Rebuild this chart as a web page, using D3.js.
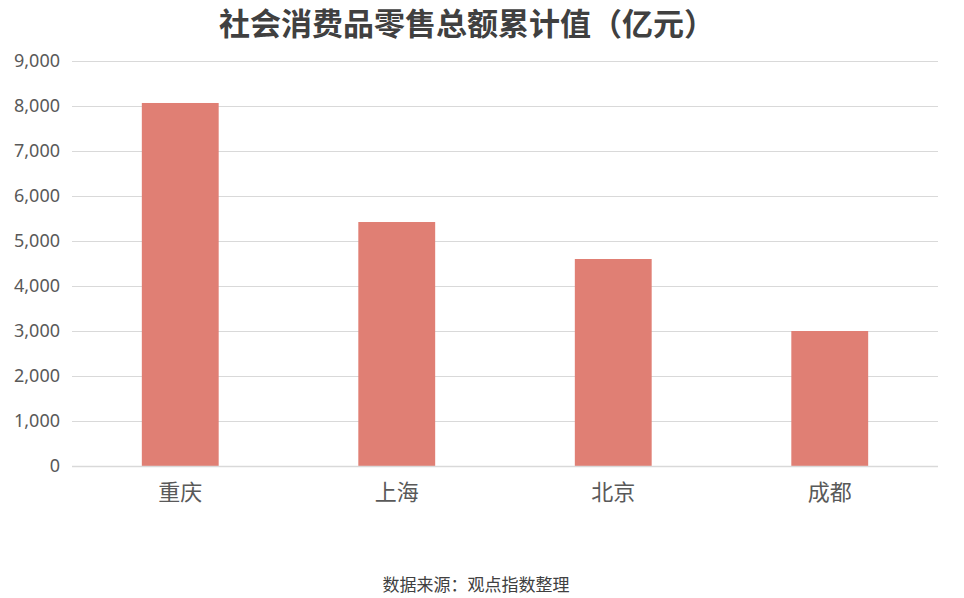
<!DOCTYPE html>
<html><head><meta charset="utf-8">
<script src="https://cdn.jsdelivr.net/npm/d3@7"></script>
<style>body{margin:0;background:#fff;}svg{display:block;font-family:"Noto Sans CJK SC","Noto Sans",sans-serif;}</style>
</head><body>
<svg id="c" width="964" height="598"></svg>
<script>
const categories = ["重庆", "上海", "北京", "成都"];
const values = [8067, 5422, 4600, 3000];
const yTicks = [0, 1000, 2000, 3000, 4000, 5000, 6000, 7000, 8000, 9000];
const title = "社会消费品零售总额累计值（亿元）";
const source = "数据来源：观点指数整理";

const svg = d3.select("#c");
const mLeft = 72, mRight = 938, mTop = 61, mBottom = 466;
const x = d3.scaleBand().domain(categories).range([mLeft, mRight]).paddingInner(0.645).paddingOuter(0.3225);
const y = d3.scaleLinear().domain([0, 9000]).range([mBottom, mTop]);

svg.append("g").selectAll("line").data(yTicks).join("line")
  .attr("x1", mLeft).attr("x2", mRight)
  .attr("y1", d => y(d) + 0.5).attr("y2", d => y(d) + 0.5)
  .attr("stroke", "#d9d9d9").attr("stroke-width", 1.2);

const yAxis = d3.axisLeft(y).tickValues(yTicks).tickFormat(d3.format(",")).tickSize(0).tickPadding(12);
const ga = svg.append("g").attr("transform", `translate(${mLeft},0)`).call(yAxis);
ga.select(".domain").remove();
ga.selectAll("text").attr("font-size", 18).attr("fill", "#595959").attr("font-family", "'Noto Sans','Noto Sans CJK SC',sans-serif");

svg.append("g").selectAll("rect").data(values).join("rect")
  .attr("x", (d, i) => x(categories[i]))
  .attr("width", x.bandwidth())
  .attr("y", d => y(d))
  .attr("height", d => y(0) - y(d))
  .attr("fill", "#e07f74");

svg.append("line").attr("x1", mLeft).attr("x2", mRight).attr("y1", mBottom + 0.5).attr("y2", mBottom + 0.5)
  .attr("stroke", "#d9d9d9").attr("stroke-width", 1.5);

const xAxis = d3.axisBottom(x).tickSize(0).tickPadding(18);
const gx = svg.append("g").attr("transform", `translate(0,${mBottom})`).call(xAxis);
gx.select(".domain").remove();
gx.selectAll("text").attr("font-size", 22).attr("fill", "#595959").attr("font-family", "'Noto Sans CJK SC',sans-serif");

svg.append("text").attr("x", 219).attr("y", 35).attr("font-size", 31).attr("font-weight", "bold")
  .attr("fill", "#404040").text(title);

svg.append("text").attr("x", 476).attr("y", 591).attr("text-anchor", "middle").attr("font-size", 17)
  .attr("fill", "#404040").text(source);
</script>
</body></html>
